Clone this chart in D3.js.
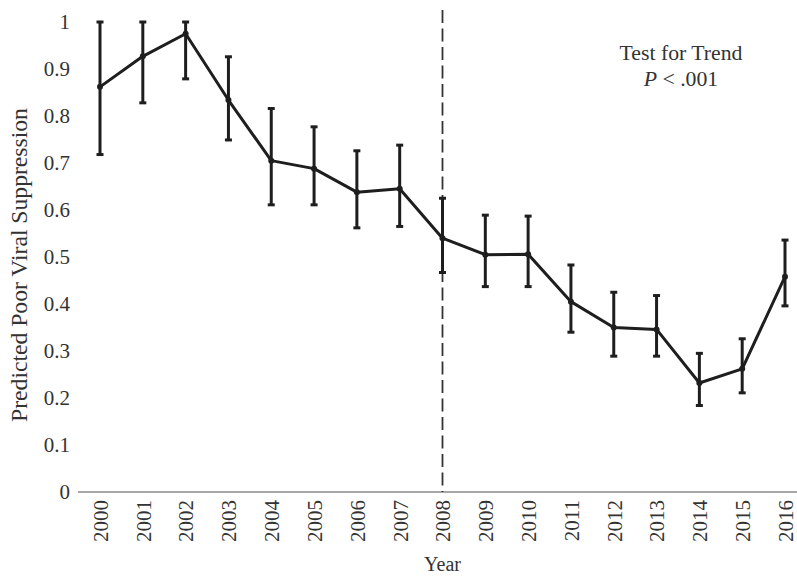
<!DOCTYPE html>
<html>
<head>
<meta charset="utf-8">
<script src="https://cdn.jsdelivr.net/npm/d3@7"></script>
<style>
  body { margin: 0; background: #fff; }
  text { font-family: "Liberation Serif", serif; fill: #333; }
</style>
</head>
<body>
<svg id="chart" width="797" height="576"></svg>
<script>
// values
var years = ["2000","2001","2002","2003","2004","2005","2006","2007","2008","2009","2010","2011","2012","2013","2014","2015","2016"];
var predicted = [0.862, 0.927, 0.975, 0.834, 0.705, 0.688, 0.638, 0.645, 0.540, 0.505, 0.506, 0.405, 0.350, 0.346, 0.232, 0.262, 0.458];
var upper = [1.0, 1.0, 1.0, 0.926, 0.816, 0.777, 0.726, 0.738, 0.625, 0.589, 0.587, 0.483, 0.425, 0.418, 0.295, 0.326, 0.536];
var lower = [0.718, 0.828, 0.879, 0.749, 0.611, 0.611, 0.562, 0.565, 0.467, 0.437, 0.437, 0.340, 0.289, 0.289, 0.184, 0.211, 0.396];
var yTicks = [0, 0.1, 0.2, 0.3, 0.4, 0.5, 0.6, 0.7, 0.8, 0.9, 1];
var splitYear = "2008";

var serif = '"Liberation Serif", "Times New Roman", Times, serif';

var svg = d3.select("#chart");

var x = d3.scalePoint().domain(years).range([100, 785]);
var y = d3.scaleLinear().domain([0, 1]).range([492, 22]);

// fit a text element to a target length by adjusting its font size
function fitText(sel, target) {
  var fs = parseFloat(sel.attr("font-size"));
  var len = sel.node().getComputedTextLength();
  if (len > 0) sel.attr("font-size", (fs * target / len).toFixed(2) + "px");
}

// y tick labels, no axis line
var yAxis = svg.append("g").attr("transform", "translate(78,0)")
  .attr("font-family", serif)
  .call(d3.axisLeft(y).tickValues(yTicks).tickSize(0).tickPadding(8)
    .tickFormat(function(d){ return d === 0 || d === 1 ? String(d) : d.toFixed(1) }));
yAxis.attr("font-family", serif);
yAxis.select(".domain").remove();
yAxis.selectAll("text").attr("font-size", "21px").attr("fill", "#333");

// baseline
svg.append("line").attr("x1", 78).attr("x2", 797).attr("y1", y(0)).attr("y2", y(0))
  .attr("stroke", "#8a8a8a").attr("stroke-width", 1.5);

// x tick labels rotated
var xAxis = svg.append("g").attr("transform", "translate(0," + y(0) + ")")
  .call(d3.axisBottom(x).tickSize(0));
xAxis.attr("font-family", serif);
xAxis.select(".domain").remove();
xAxis.selectAll("text")
  .attr("transform", "rotate(-90)")
  .attr("x", -8).attr("y", 0).attr("dy", "0.35em")
  .attr("text-anchor", "end")
  .attr("font-size", "21px").attr("fill", "#333");

// dashed reference line at 2008
svg.append("line").attr("x1", x(splitYear)).attr("x2", x(splitYear))
  .attr("y1", 10).attr("y2", y(0))
  .attr("stroke", "#333").attr("stroke-width", 1.8).attr("stroke-dasharray", "13,5.5");

// error bars
var bars = svg.append("g");
years.forEach(function(yr, i) {
  var cx = x(yr);
  bars.append("line").attr("x1", cx).attr("x2", cx).attr("y1", y(upper[i])).attr("y2", y(lower[i]))
    .attr("stroke", "#1e1e1e").attr("stroke-width", 3);
  [upper[i], lower[i]].forEach(function(v) {
    bars.append("line").attr("x1", cx - 3.5).attr("x2", cx + 3.5).attr("y1", y(v)).attr("y2", y(v))
      .attr("stroke", "#1e1e1e").attr("stroke-width", 3);
  });
});

// line of predicted values
var line = d3.line().x(function(d, i){ return x(years[i]) }).y(function(d){ return y(d) });
svg.append("path").datum(predicted).attr("d", line)
  .attr("fill", "none").attr("stroke", "#1e1e1e").attr("stroke-width", 3).attr("stroke-linejoin", "round");

svg.selectAll("circle.pt").data(predicted).enter().append("circle").attr("class", "pt")
  .attr("cx", function(d, i){ return x(years[i]) }).attr("cy", function(d){ return y(d) })
  .attr("r", 3).attr("fill", "#1e1e1e");

// axis titles
var yTitle = svg.append("text").text("Predicted Poor Viral Suppression")
  .attr("font-family", serif)
  .attr("transform", "translate(27,265) rotate(-90)")
  .attr("text-anchor", "middle").attr("font-size", "18px");
fitText(yTitle, 314);
svg.append("text").text("Year").attr("x", x(splitYear)).attr("y", 571)
  .attr("font-family", serif)
  .attr("text-anchor", "middle").attr("font-size", "20px");

// annotation
var t1 = svg.append("text").text("Test for Trend").attr("x", 681).attr("y", 60)
  .attr("font-family", serif)
  .attr("text-anchor", "middle").attr("font-size", "19px");
fitText(t1, 123);
var p = svg.append("text").attr("x", 681).attr("y", 86).attr("text-anchor", "middle")
  .attr("font-family", serif).attr("font-size", t1.attr("font-size"));
p.append("tspan").text("P").attr("font-style", "italic");
p.append("tspan").text(" < .001");
</script>
</body>
</html>
